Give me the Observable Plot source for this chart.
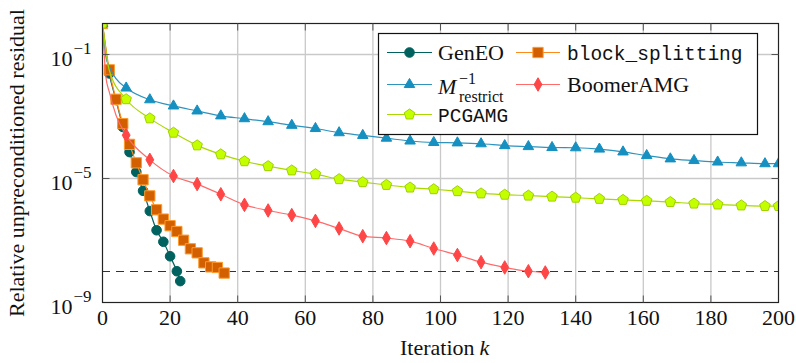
<!DOCTYPE html>
<html>
<head>
<meta charset="utf-8">
<script src="https://cdn.jsdelivr.net/npm/d3@7"></script>
<script src="https://cdn.jsdelivr.net/npm/@observablehq/plot@0.6"></script>
<style>
  body { margin: 0; background: #fff; }
  #wrap { position: relative; width: 796px; height: 363px; }
  #legend { position: absolute; left: 0; top: 0; pointer-events: none; }
</style>
</head>
<body>
<div id="wrap"></div>
<script>
// ---------- data ----------
const seriesNames = ["GenEO", "block_splitting", "Mrestrict", "BoomerAMG", "PCGAMG"];

const iterGenEO = [0, 2, 4, 6, 8, 10, 12, 14, 16, 18, 20, 22, 23];
const resGenEO  = [1, 2.45e-2, 3.4e-3, 4.6e-4, 7.1e-5, 1.62e-5, 4.0e-6, 8.9e-7, 2.14e-7, 9.1e-8, 3.1e-8, 1.02e-8, 4.9e-9];

const iterBlock = [0, 2, 4, 6, 8, 10, 12, 14, 16, 18, 20, 22, 24, 26, 28, 30, 32, 34, 36];
const resBlock  = [1, 3.2e-2, 3.6e-3, 5.9e-4, 1.26e-4, 3.2e-5, 9.1e-6, 2.75e-6, 9.8e-7, 4.9e-7, 3.0e-7, 1.95e-7, 1.02e-7, 5.4e-8, 4.0e-8, 1.9e-8, 1.41e-8, 1.35e-8, 8.9e-9];

const iterMres = [0, 1, 2, 4, 7, 14, 21, 28, 35, 42, 49, 56, 63, 70, 77, 84, 91, 98, 105, 112, 119, 126, 133, 140, 147, 154, 161, 168, 175, 182, 189, 196, 200];
const resMres  = [1, 8.3e-2, 4.0e-2, 1.66e-2, 8.3e-3, 3.47e-3, 2.19e-3, 1.51e-3, 1.05e-3, 8.5e-4, 6.8e-4, 5.2e-4, 4.1e-4, 3.0e-4, 2.45e-4, 2.0e-4, 1.62e-4, 1.45e-4, 1.41e-4, 1.32e-4, 1.15e-4, 1.07e-4, 1.0e-4, 9.8e-5, 8.9e-5, 7.2e-5, 5.5e-5, 4.3e-5, 3.8e-5, 3.4e-5, 3.2e-5, 3.0e-5, 3.0e-5];

const iterBoomer = [0, 1, 2, 4, 7, 14, 21, 28, 35, 42, 49, 56, 63, 70, 77, 84, 91, 98, 105, 112, 119, 126, 131];
const resBoomer  = [1, 1.9e-2, 6.2e-3, 1.1e-3, 2.5e-4, 4.0e-5, 1.2e-5, 6.6e-6, 3.1e-6, 1.41e-6, 9.3e-7, 6.6e-7, 4.3e-7, 2.45e-7, 1.38e-7, 1.2e-7, 9.5e-8, 5.5e-8, 3.4e-8, 2.0e-8, 1.35e-8, 1.02e-8, 9.3e-9];

const iterPCGAMG = [0, 2, 7, 14, 21, 28, 35, 42, 49, 56, 63, 70, 77, 84, 91, 98, 105, 112, 119, 126, 133, 140, 147, 154, 161, 168, 175, 182, 189, 196, 200];
const resPCGAMG  = [1, 3.1e-2, 3.6e-3, 8.7e-4, 3.0e-4, 1.17e-4, 6.0e-5, 3.6e-5, 2.5e-5, 1.82e-5, 1.38e-5, 9.5e-6, 7.6e-6, 6.2e-6, 5.1e-6, 4.5e-6, 3.9e-6, 3.3e-6, 3.0e-6, 2.8e-6, 2.6e-6, 2.4e-6, 2.2e-6, 2.04e-6, 1.9e-6, 1.74e-6, 1.55e-6, 1.45e-6, 1.35e-6, 1.29e-6, 1.29e-6];

const markEvery = [2, 2, 7, 7, 7];
const tolerance = 1e-8;

const xTicks = [0, 20, 40, 60, 80, 100, 120, 140, 160, 180, 200];
const xGrid = [20, 40, 60, 80, 100, 120, 140, 160, 180];
const yTicks = [1e-1, 1e-5, 1e-9];
const yTickBase = ["10", "10", "10"];
const yTickExp = ["\u22121", "\u22125", "\u22129"];
const yGrid = [1e-1, 1e-5];

// ---------- styles ----------
const lineColors = ["#00625e", "#ff8a1c", "#2e93bd", "#ff6a6a", "#a9d800"];
const fillColors = ["#00625e", "#d25f00", "#1590c0", "#ff4646", "#c4ff00"];
const strokeColors = ["#00625e", "#ff9a2a", "#1590c0", "#ff4646", "#9fd000"];

const pentagon = {
  draw(ctx, size) {
    const R = Math.sqrt(size / Math.PI) * 1.2;
    for (let i = 0; i < 5; i++) {
      const a = -Math.PI / 2 + i * 2 * Math.PI / 5;
      const x = R * Math.cos(a), y = R * Math.sin(a);
      if (i) ctx.lineTo(x, y); else ctx.moveTo(x, y);
    }
    ctx.closePath();
  }
};
const symbols = ["circle", "square", "triangle", "diamond", pentagon];
const radii = [4.8, 5.8, 3.9, 4.1, 4.6];

const tickLen = 7;
const tickUp = {draw(ctx) { ctx.moveTo(0, 0); ctx.lineTo(0, -tickLen); }};
const tickDown = {draw(ctx) { ctx.moveTo(0, 0); ctx.lineTo(0, tickLen); }};
const tickRight = {draw(ctx) { ctx.moveTo(0, 0); ctx.lineTo(tickLen, 0); }};
const tickLeft = {draw(ctx) { ctx.moveTo(0, 0); ctx.lineTo(-tickLen, 0); }};

const iters = [iterGenEO, iterBlock, iterMres, iterBoomer, iterPCGAMG];
const ress = [resGenEO, resBlock, resMres, resBoomer, resPCGAMG];

const seriesMarks = [];
seriesNames.forEach((name, s) => {
  const rows = iters[s].map((k, i) => ({k, r: ress[s][i]}));
  const last = rows.length - 1;
  const marked = rows.filter((d, i) => d.k % markEvery[s] === 0 || i === last);
  seriesMarks.push(Plot.line(rows, {x: "k", y: "r", stroke: lineColors[s], strokeWidth: 1.2, curve: "monotone-x", clip: true}));
  seriesMarks.push(Plot.dot(marked, {x: "k", y: "r", symbol: symbols[s], r: radii[s], fill: fillColors[s], stroke: strokeColors[s], strokeWidth: 1, clip: true}));
});

const serif = "'Liberation Serif', 'Times New Roman', serif";

const chart = Plot.plot({
  width: 796,
  height: 363,
  marginLeft: 102,
  marginRight: 18,
  marginTop: 23,
  marginBottom: 61,
  style: {fontFamily: serif, fontSize: "22px", color: "#111", background: "#fff"},
  x: {domain: [0, 200], axis: null},
  y: {type: "log", domain: [1e-9, 1], axis: null},
  marks: [
    Plot.gridX(xGrid, {stroke: "#c9c9c9", strokeOpacity: 1, strokeWidth: 1.3}),
    Plot.gridY(yGrid, {stroke: "#c9c9c9", strokeOpacity: 1, strokeWidth: 1.3}),
    Plot.ruleY([tolerance], {stroke: "#333", strokeWidth: 1.2, strokeDasharray: "8,6"}),
    ...seriesMarks,
    Plot.frame({stroke: "#222", strokeWidth: 1.2}),
    Plot.dot(xGrid, {x: d => d, frameAnchor: "bottom", symbol: tickUp, fill: "none", stroke: "#555", strokeWidth: 1}),
    Plot.dot(xGrid, {x: d => d, frameAnchor: "top", symbol: tickDown, fill: "none", stroke: "#555", strokeWidth: 1}),
    Plot.dot(yGrid, {y: d => d, frameAnchor: "left", symbol: tickRight, fill: "none", stroke: "#555", strokeWidth: 1}),
    Plot.dot(yGrid, {y: d => d, frameAnchor: "right", symbol: tickLeft, fill: "none", stroke: "#555", strokeWidth: 1}),
    Plot.axisX({ticks: xTicks, tickSize: 0, tickPadding: 7, label: null, fontSize: 22}),
    Plot.text(yTicks, {y: d => d, frameAnchor: "left", text: (d, i) => yTickBase[i], textAnchor: "end", dx: -30, dy: 4, fontSize: 22}),
    Plot.text(yTicks, {y: d => d, frameAnchor: "left", text: (d, i) => yTickExp[i], textAnchor: "start", dx: -29, dy: -6, fontSize: 17}),
    Plot.text(["Relative unpreconditioned residual"], {frameAnchor: "left", textAnchor: "middle", dx: -86, rotate: -90, fontSize: 22}),
    Plot.text(["Iteration"], {frameAnchor: "bottom", dx: 34, dy: 52, textAnchor: "end", fontSize: 22}),
    Plot.text(["k"], {frameAnchor: "bottom", dx: 39, dy: 52, textAnchor: "start", fontSize: 22, fontStyle: "italic"})
  ]
});

const wrap = document.getElementById("wrap");
wrap.appendChild(chart);

// ---------- legend (overlay) ----------
const mono = "'Liberation Mono', 'DejaVu Sans Mono', monospace";
const leg = d3.select(wrap).append("svg").attr("id", "legend").attr("width", 796).attr("height", 363);
leg.append("rect").attr("x", 378.5).attr("y", 33.5).attr("width", 379).attr("height", 101)
  .attr("fill", "#fff").attr("stroke", "#111").attr("stroke-width", 1.2);

const legendPos = [
  {x0: 387, x1: 432, y: 52.5, tx: 438},
  {x0: 516, x1: 560, y: 52.5, tx: 567},
  {x0: 387, x1: 432, y: 84.5, tx: 438},
  {x0: 516, x1: 560, y: 84.5, tx: 567},
  {x0: 387, x1: 432, y: 114.5, tx: 438}
];
seriesNames.forEach((name, s) => {
  const p = legendPos[s];
  leg.append("line").attr("x1", p.x0).attr("x2", p.x1).attr("y1", p.y).attr("y2", p.y)
    .attr("stroke", lineColors[s]).attr("stroke-width", 1.2);
  const t = typeof symbols[s] === "string" ? {circle: d3.symbolCircle, square: d3.symbolSquare, triangle: d3.symbolTriangle, diamond: d3.symbolDiamond}[symbols[s]] : symbols[s];
  leg.append("path").attr("d", d3.symbol(t, Math.PI * radii[s] * radii[s])())
    .attr("transform", `translate(${(p.x0 + p.x1) / 2},${p.y})`)
    .attr("fill", fillColors[s]).attr("stroke", strokeColors[s]).attr("stroke-width", 1);
});
const txt = (x, y, str, opts = {}) => leg.append("text").attr("x", x).attr("y", y)
  .attr("font-family", opts.family || serif).attr("font-size", opts.size || 22)
  .attr("font-style", opts.style || "normal").attr("fill", "#111").text(str);
txt(438, 59.5, "GenEO");
txt(567, 59.5, "block_splitting", {family: mono, size: 19.5});
txt(438, 94, "M", {style: "italic"});
txt(459, 84, "\u22121", {size: 16});
txt(459, 101.5, "restrict", {size: 16});
txt(567, 92, "BoomerAMG");
txt(438, 121.5, "PCGAMG", {family: mono, size: 19.5});
</script>
</body>
</html>
